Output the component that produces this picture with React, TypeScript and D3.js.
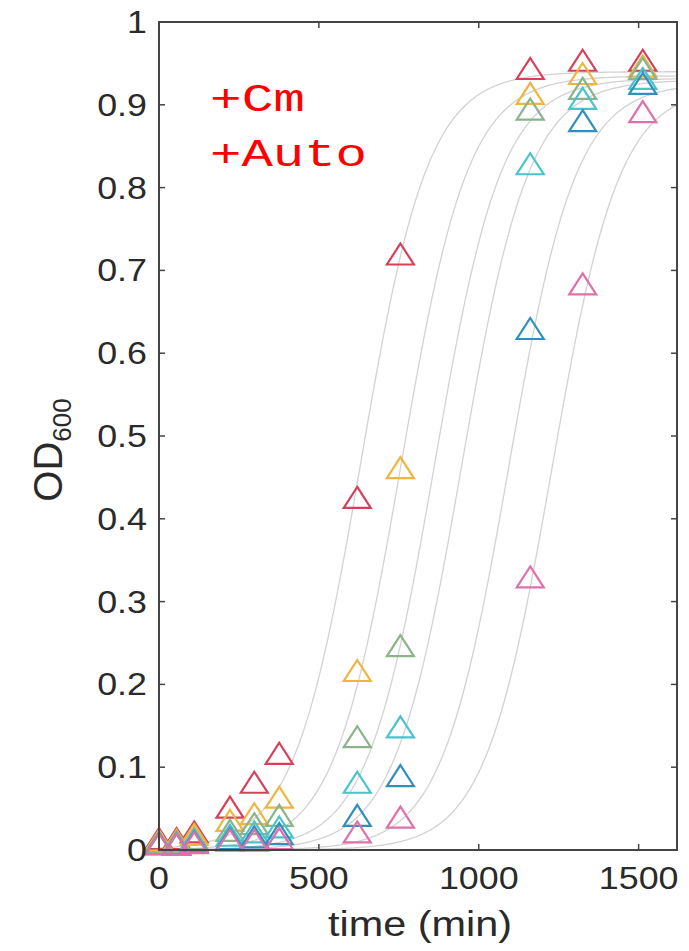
import React, { useEffect, useRef } from 'react';
import * as d3 from 'd3';

// sampling times (min)
const times = [0, 55, 110, 222, 298, 376, 620, 755, 1161, 1325, 1513];

// OD600 readings, one array per strain
const redOD = [0.012, 0.012, 0.02, 0.05, 0.08, 0.115, 0.424, 0.718, 0.942, 0.952, 0.952];
const orangeOD = [0.01, 0.01, 0.017, 0.034, 0.042, 0.062, 0.215, 0.46, 0.912, 0.936, 0.945];
const greenOD = [0.008, 0.008, 0.012, 0.022, 0.03, 0.04, 0.135, 0.245, 0.893, 0.918, 0.942];
const cyanOD = [0.006, 0.006, 0.01, 0.016, 0.02, 0.026, 0.08, 0.147, 0.827, 0.906, 0.93];
const blueOD = [0.006, 0.005, 0.008, 0.012, 0.014, 0.018, 0.04, 0.088, 0.628, 0.879, 0.924];
const pinkOD = [0.006, 0.005, 0.007, 0.01, 0.01, 0.012, 0.02, 0.038, 0.328, 0.682, 0.89];

const seriesColors = ['#d6405a', '#f0b440', '#8ab48a', '#48c4cc', '#2f90c0', '#e070aa'];

// logistic fit parameters (plateau, rate, midpoint)
const fitPlateau = [0.94, 0.935, 0.932, 0.93, 0.926, 0.922];
const fitRate = [0.0095, 0.0095, 0.0095, 0.0095, 0.0095, 0.0095];
const fitMid = [632, 758, 862, 947, 1094, 1229];

const xTicks = [0, 500, 1000, 1500];
const yTicks = [0, 0.1, 0.2, 0.3, 0.4, 0.5, 0.6, 0.7, 0.8, 0.9, 1];

const App: React.FC = () => {
  const svgRef = useRef<SVGSVGElement>(null);

  useEffect(() => {
    const svg = d3.select(svgRef.current);
    svg.selectAll('*').remove();

    const x = d3.scaleLinear().domain([0, 1620]).range([159, 677]);
    const y = d3.scaleLinear().domain([0, 1]).range([850, 22]);
    const axisColor = '#444';
    const textColor = '#2a2a2a';
    const font = '"Liberation Sans", Arial, Helvetica, sans-serif';

    svg.append('defs').append('clipPath').attr('id', 'plotClip')
      .append('rect')
      .attr('x', x(0)).attr('y', y(1))
      .attr('width', x(1620) - x(0)).attr('height', y(0) - y(1));

    // fitted curves
    const curveG = svg.append('g').attr('clip-path', 'url(#plotClip)');
    const sampleT = d3.range(0, 1621, 4);
    const line = d3.line<[number, number]>().x(d => x(d[0])).y(d => y(d[1]));
    fitMid.forEach((m, i) => {
      const pts: [number, number][] = sampleT.map(t => [t, fitPlateau[i] / (1 + Math.exp(-fitRate[i] * (t - m)))]);
      curveG.append('path')
        .attr('d', line(pts))
        .attr('fill', 'none')
        .attr('stroke', '#d2d2d2')
        .attr('stroke-width', 1.3);
    });

    // markers
    const tri = {
      draw(ctx: d3.Path, _size: number) {
        ctx.moveTo(0, -12);
        ctx.lineTo(13.5, 9);
        ctx.lineTo(-13.5, 9);
        ctx.closePath();
      },
    };
    const sym = d3.symbol().type(tri as any)();
    const all = [redOD, orangeOD, greenOD, cyanOD, blueOD, pinkOD];
    all.forEach((vals, i) => {
      svg.append('g').selectAll('path')
        .data(vals)
        .join('path')
        .attr('d', sym)
        .attr('transform', (d, j) => `translate(${x(times[j])},${y(d)})`)
        .attr('fill', 'none')
        .attr('stroke', seriesColors[i])
        .attr('stroke-width', 2.2)
        .attr('stroke-linejoin', 'miter');
    });

    // box
    svg.append('rect')
      .attr('x', x(0)).attr('y', y(1))
      .attr('width', x(1620) - x(0)).attr('height', y(0) - y(1))
      .attr('fill', 'none').attr('stroke', axisColor).attr('stroke-width', 2);

    // ticks
    const tickLen = 6;
    xTicks.forEach(t => {
      svg.append('line').attr('x1', x(t)).attr('x2', x(t)).attr('y1', y(0)).attr('y2', y(0) - tickLen)
        .attr('stroke', axisColor).attr('stroke-width', 1.5);
      svg.append('line').attr('x1', x(t)).attr('x2', x(t)).attr('y1', y(1)).attr('y2', y(1) + tickLen)
        .attr('stroke', axisColor).attr('stroke-width', 1.5);
      svg.append('text')
        .attr('transform', `translate(${x(t)},889) scale(1.12,1)`)
        .attr('text-anchor', 'middle')
        .attr('font-family', font).attr('font-size', 32).attr('fill', textColor)
        .text(d3.format('d')(t));
    });
    yTicks.forEach(v => {
      svg.append('line').attr('x1', x(0)).attr('x2', x(0) + tickLen).attr('y1', y(v)).attr('y2', y(v))
        .attr('stroke', axisColor).attr('stroke-width', 1.5);
      svg.append('line').attr('x1', x(1620)).attr('x2', x(1620) - tickLen).attr('y1', y(v)).attr('y2', y(v))
        .attr('stroke', axisColor).attr('stroke-width', 1.5);
      svg.append('text')
        .attr('transform', `translate(147,${y(v) + 11}) scale(1.12,1)`)
        .attr('text-anchor', 'end')
        .attr('font-family', font).attr('font-size', 32).attr('fill', textColor)
        .text(v === 0 ? '0' : v === 1 ? '1' : d3.format('.1f')(v));
    });

    // axis titles
    svg.append('text')
      .attr('transform', 'translate(420,936) scale(1.15,1)')
      .attr('text-anchor', 'middle')
      .attr('font-family', font).attr('font-size', 36).attr('fill', textColor)
      .text('time (min)');

    const yt = svg.append('text')
      .attr('transform', 'translate(62,450) rotate(-90)')
      .attr('text-anchor', 'middle')
      .attr('font-family', font).attr('font-size', 40).attr('fill', textColor);
    yt.append('tspan').text('OD');
    yt.append('tspan').attr('font-size', 26).attr('dy', 9).text('600');

    // annotations
    const mono = '"Liberation Mono", "Courier New", monospace';
    svg.append('text')
      .attr('x', 210).attr('y', 111)
      .attr('font-family', mono).attr('font-size', 38).attr('fill', '#ff0000')
      .attr('textLength', 95).attr('lengthAdjust', 'spacingAndGlyphs')
      .text('+Cm');
    svg.append('text')
      .attr('x', 210).attr('y', 166)
      .attr('font-family', mono).attr('font-size', 38).attr('fill', '#ff0000')
      .attr('textLength', 157).attr('lengthAdjust', 'spacingAndGlyphs')
      .text('+Auto');
  }, []);

  return (
    <svg
      ref={svgRef}
      width={689}
      height={951}
      style={{ position: 'absolute', left: 0, top: 0, background: '#fff', display: 'block' }}
    />
  );
};

export default App;
